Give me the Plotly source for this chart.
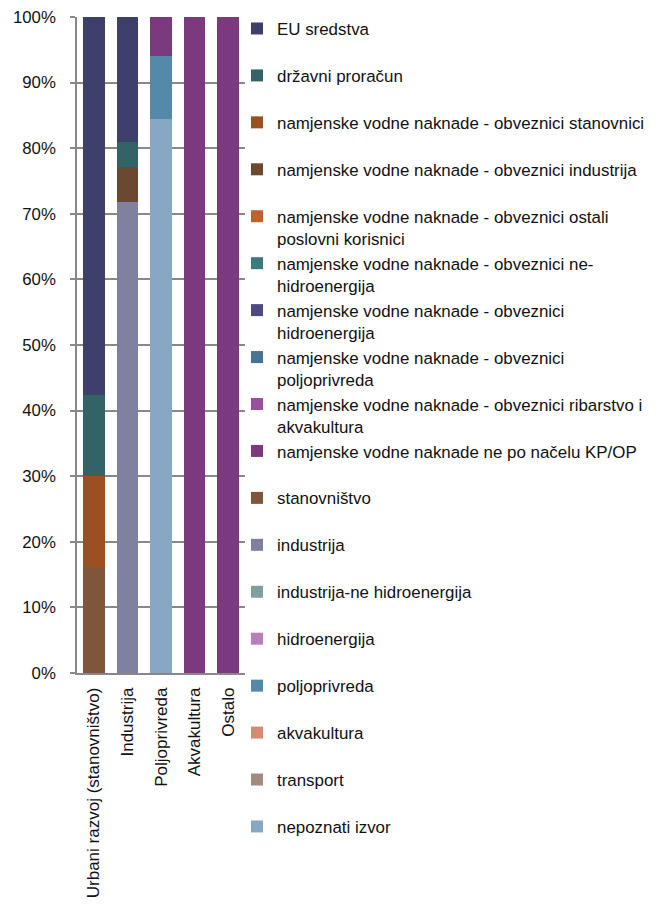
import plotly.graph_objects as go

categories = ["Urbani razvoj (stanovništvo)", "Industrija", "Poljoprivreda", "Akvakultura", "Ostalo"]

# series listed bottom -> top of the stack
series_names = [
    "nepoznati izvor",
    "transport",
    "akvakultura",
    "poljoprivreda",
    "hidroenergija",
    "industrija-ne hidroenergija",
    "industrija",
    "stanovništvo",
    "namjenske vodne naknade ne po načelu KP/OP",
    "namjenske vodne naknade - obveznici ribarstvo i<br>akvakultura",
    "namjenske vodne naknade - obveznici<br>poljoprivreda",
    "namjenske vodne naknade - obveznici<br>hidroenergija",
    "namjenske vodne naknade - obveznici ne-<br>hidroenergija",
    "namjenske vodne naknade - obveznici ostali<br>poslovni korisnici",
    "namjenske vodne naknade - obveznici industrija",
    "namjenske vodne naknade - obveznici stanovnici",
    "državni proračun",
    "EU sredstva",
]

nepoznati_izvor = [0, 0, 84.5, 0, 0]
transport = [0, 0, 0, 0, 0]
akvakultura = [0, 0, 0, 0, 0]
poljoprivreda = [0, 0, 9.5, 0, 0]
hidroenergija = [0, 0, 0, 0, 0]
industrija_ne_hidro = [0, 0, 0, 0, 0]
industrija = [0, 71.8, 0, 0, 0]
stanovnistvo = [16.1, 0, 0, 0, 0]
nvn_ne_kpop = [0, 0, 6.0, 100, 100]
nvn_ribarstvo = [0, 0, 0, 0, 0]
nvn_poljoprivreda = [0, 0, 0, 0, 0]
nvn_hidro = [0, 0, 0, 0, 0]
nvn_ne_hidro = [0, 0, 0, 0, 0]
nvn_ostali = [0, 0, 0, 0, 0]
nvn_industrija = [0, 5.3, 0, 0, 0]
nvn_stanovnici = [13.9, 0, 0, 0, 0]
drzavni_proracun = [12.4, 3.8, 0, 0, 0]
eu_sredstva = [57.6, 19.1, 0, 0, 0]

series_values = [
    nepoznati_izvor, transport, akvakultura, poljoprivreda, hidroenergija,
    industrija_ne_hidro, industrija, stanovnistvo, nvn_ne_kpop, nvn_ribarstvo,
    nvn_poljoprivreda, nvn_hidro, nvn_ne_hidro, nvn_ostali, nvn_industrija,
    nvn_stanovnici, drzavni_proracun, eu_sredstva,
]

series_colors = [
    "#86A8C4", "#A38A7E", "#D48B73", "#5589AA", "#B77EB9",
    "#7FA09F", "#8080A0", "#80563A", "#7B3A7E", "#9B4F9F",
    "#467593", "#4B4B82", "#3C7B7D", "#C0622E", "#6B4830",
    "#9C4F22", "#336366", "#3F3F6B",
]

y_ticks = list(range(0, 101, 10))

FONT = "Liberation Sans, Arial, sans-serif"
W, H = 659, 906

fig = go.Figure()
for name, vals, col in zip(series_names, series_values, series_colors):
    label = name if "<br>" in name else name + "<br>\u00a0"
    fig.add_trace(go.Bar(
        x=categories, y=vals, name=label,
        marker=dict(color=col, line=dict(width=0)),
    ))

fig.update_layout(
    width=W, height=H,
    barmode="stack", bargap=0.36,
    plot_bgcolor="white", paper_bgcolor="white",
    margin=dict(l=77, r=414, t=17, b=233, autoexpand=False),
    font=dict(family=FONT, size=16.9, color="#111"),
    showlegend=True,
    legend=dict(
        xref="container", yref="container",
        x=237 / W, xanchor="left",
        y=1 - 11 / H, yanchor="top",
        traceorder="reversed", tracegroupgap=0, maxheight=900,
        valign="top", font=dict(family=FONT, size=16.9, color="#111"),
        bgcolor="rgba(0,0,0,0)",
    ),
    xaxis=dict(
        tickangle=-90, showline=True, linecolor="#888", linewidth=1.5,
        ticks="", showgrid=False, tickfont=dict(size=17),
        ticklabelstandoff=6,
    ),
    yaxis=dict(
        range=[0, 100], tickvals=y_ticks, ticktext=[f"{v}%" for v in y_ticks],
        showgrid=True, gridcolor="#888", gridwidth=1.5,
        showline=True, linecolor="#888", linewidth=1.5,
        ticks="outside", ticklen=5, tickcolor="#888", tickwidth=1.5,
        ticklabelstandoff=11, zeroline=False, tickfont=dict(size=16.8),
    ),
)

fig.write_html(
    "out.html",
    config={"displayModeBar": False},
    post_script="document.body.style.margin='0';",
)
